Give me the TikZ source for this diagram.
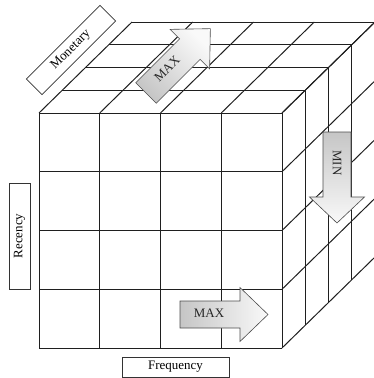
\documentclass[tikz,border=0pt]{standalone}
\usepackage{fontspec}
\setmainfont{Liberation Serif}
\begin{document}
\begin{tikzpicture}[x=1bp,y=-1bp,
  grid/.style={line width=1bp, draw=black!88},
  lbl/.style={draw=black!80, line width=0.7bp, fill=white, font=\fontsize{13}{15}\selectfont, inner sep=0pt},
  arrtxt/.style={font=\fontsize{13}{15}\selectfont, inner sep=0pt, text=black!85},
  arrbody/.style={draw=black!70, line width=0.6bp}]
\useasboundingbox (0,0) rectangle (374,378);
\begin{scope}
\clip (0,0) rectangle (374,378);
% front face
\foreach \i in {0,...,4} {
  \draw[grid] (39+60.75*\i,113) -- (39+60.75*\i,348);
  \draw[grid] (39,113+58.75*\i) -- (282,113+58.75*\i);
  % top face receding lines
  \draw[grid] (39+60.75*\i,113) -- ++(93,-91);
  % right face receding lines
  \draw[grid] (282,113+58.75*\i) -- ++(93,-91);
}
\foreach \k in {1,...,4} {
  \draw[grid] (39+23.25*\k,113-22.75*\k) -- ++(243,0);
  \draw[grid] (282+23.25*\k,113-22.75*\k) -- ++(0,235);
}
\end{scope}
% block arrows
\begin{scope}[shift={(180,314.5)}]
  \shade[arrbody, left color=gray!45, right color=gray!5]
    (0,-13.5) -- (60,-13.5) -- (60,-27) -- (88,0) -- (60,27) -- (60,13.5) -- (0,13.5) -- cycle;
\end{scope}
\begin{scope}[shift={(337,132)}, rotate=-90]
  \shade[arrbody, top color=gray!45, bottom color=gray!5]
    (0,-14) -- (65,-14) -- (65,-27.5) -- (91,0) -- (65,27.5) -- (65,14) -- (0,14) -- cycle;
\end{scope}
\begin{scope}[shift={(146,93)}, rotate=45]
  \shade[arrbody, top color=gray!5, bottom color=gray!45, shading angle=-45]
    (0,-14.5) -- (62,-14.5) -- (62,-28) -- (91,0) -- (62,28) -- (62,14.5) -- (0,14.5) -- cycle;
\end{scope}
\node[arrtxt] (maxf) at (209,313) {MAX};
\node[arrtxt, rotate=-90] (minr) at (337,163) {MIN};
\node[arrtxt, rotate=45] (maxt) at (167,69) {MAX};
% axis labels
\node[lbl, rotate=45, minimum width=104bp, minimum height=22bp] (mon) at (71,50) {Monetary};
\node[lbl, rotate=90, minimum width=106bp, minimum height=21bp] (rec) at (19.5,236) {Recency};
\node[lbl, minimum width=107bp, minimum height=20bp] (freq) at (175.5,367) {Frequency};
\end{tikzpicture}
\end{document}
